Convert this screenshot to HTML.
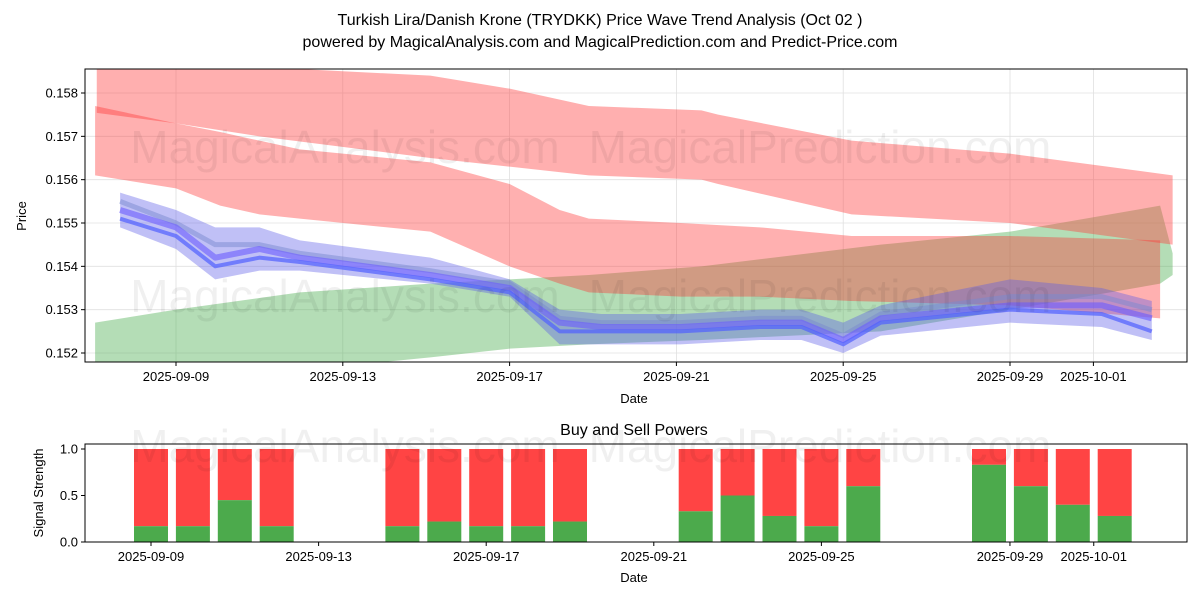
<!DOCTYPE html>
<html><head><meta charset="utf-8">
<style>
body{margin:0;background:#fff;}
svg{display:block;font-family:"Liberation Sans","DejaVu Sans",sans-serif;}
</style></head>
<body>
<svg id="chart" width="1200" height="600" viewBox="0 0 1200 600" xmlns="http://www.w3.org/2000/svg">
<rect width="1200" height="600" fill="#fff"/>
<text x="600" y="25" text-anchor="middle" font-size="16">Turkish Lira/Danish Krone (TRYDKK) Price Wave Trend Analysis (Oct 02 )</text>
<text x="600" y="47" text-anchor="middle" font-size="16">powered by MagicalAnalysis.com and MagicalPrediction.com and Predict-Price.com</text>
<defs>
<clipPath id="topclip"><rect x="85" y="69" width="1102" height="293"/></clipPath>
</defs>
<g id="topchart"></g>
<g id="bottomchart"></g>
</svg>
<script>
// ---- data ----
const tickDates=["2025-09-09","2025-09-13","2025-09-17","2025-09-21","2025-09-25","2025-09-29","2025-10-01"];
const tickDays=[0,4,8,12,16,20,22];
const yTicks=[0.152,0.153,0.154,0.155,0.156,0.157,0.158];
const redUpDays=[-1.9,0,2,6.1,8,9.9,12.6,13,16.2,20,23.9];
const redUpTop=[0.1586,0.1586,0.1586,0.1584,0.1581,0.1577,0.1576,0.1575,0.1569,0.1566,0.1561];
const redUpBot=[0.15754,0.1573,0.1570,0.1565,0.1563,0.1561,0.1560,0.1559,0.1552,0.1550,0.1545];
const redLoDays=[-1.94,0,1.06,2,2.97,6.1,8,9.2,9.9,12.1,14,16.2,20,23.6];
const redLoTop=[0.1577,0.1573,0.1571,0.1569,0.1567,0.1564,0.1559,0.1553,0.1551,0.1550,0.1549,0.1547,0.1547,0.1546];
const redLoBot=[0.1561,0.1558,0.1554,0.1552,0.1551,0.1548,0.1540,0.1536,0.1534,0.1533,0.1533,0.1532,0.1531,0.1528];
const greenDays=[-1.94,0,2.97,6.1,8,9.9,12.6,16.9,20,23.6,23.9];
const greenTop=[0.1527,0.1530,0.1534,0.1536,0.1537,0.1538,0.1540,0.1545,0.1548,0.1554,0.1543];
const greenBot=[0.1516,0.1514,0.1516,0.1519,0.1521,0.1522,0.1523,0.1525,0.1530,0.1536,0.1538];
const blueDays=[-1.34,0,0.94,2,2.97,6.1,8,9.2,10.2,12.1,14,15,16,16.9,20,22.2,23.4];
const blueTop=[0.1557,0.1553,0.1549,0.1549,0.1546,0.1542,0.1537,0.1530,0.1529,0.1529,0.1530,0.1530,0.1527,0.1531,0.1537,0.1535,0.1532];
const blueBot=[0.1549,0.1544,0.1537,0.1539,0.1539,0.1536,0.1533,0.1522,0.1522,0.1522,0.1523,0.1523,0.1520,0.1524,0.1527,0.1526,0.1523];
const lineA=[0.1553,0.1549,0.1542,0.1544,0.1542,0.1538,0.1535,0.1527,0.1526,0.1526,0.1527,0.1527,0.1523,0.1528,0.1531,0.1531,0.1528];
const lineB=[0.1551,0.1547,0.1540,0.1542,0.1541,0.1537,0.1534,0.1525,0.1525,0.1525,0.1526,0.1526,0.1522,0.1527,0.1530,0.1529,0.1525];
const lineC=[0.1555,0.1550,0.1545,0.1545,0.1543,0.1539,0.1536,0.1528,0.1527,0.1527,0.1528,0.1528,0.1524,0.1529,0.1533,0.1533,0.1530];
const sigDays=[0,1,2,3,6,7,8,9,10,13,14,15,16,17,20,21,22,23];
const buyVals=[0.17,0.17,0.45,0.17,0.17,0.22,0.17,0.17,0.22,0.33,0.5,0.28,0.17,0.6,0.83,0.6,0.4,0.28];
const sigTickDates=["2025-09-09","2025-09-13","2025-09-17","2025-09-21","2025-09-25","2025-09-29","2025-10-01"];
const sigTickDays=[0,4,8,12,16,20.5,22.5];
const sigYTicks=[0.0,0.5,1.0];

// ---- axes ----
const NS="http://www.w3.org/2000/svg";
const X=d=>176+41.7*d;
const Y=v=>353-(v-0.152)*43333;
const XB=d=>151+41.9*d;
const YB=v=>542-v*93;
function mk(tag,attrs,parent){const e=document.createElementNS(NS,tag);for(const k in attrs)e.setAttribute(k,attrs[k]);parent.appendChild(e);return e;}
const topG=document.getElementById('topchart'), bot=document.getElementById('bottomchart');

tickDays.forEach((d)=>{const l=mk('line',{x1:X(d),x2:X(d),y1:69,y2:362,stroke:'#e0e0e0','stroke-width':0.8},topG);

});
yTicks.forEach(v=>{const l=mk('line',{x1:85,x2:1187,y1:Y(v),y2:Y(v),stroke:'#e0e0e0','stroke-width':0.8},topG);

});

const plot=mk('g',{'clip-path':'url(#topclip)'},topG);


function band(days,t,b,fill,op,name){
 let p=days.map((d,i)=>X(d)+','+Y(t[i]));
 for(let i=days.length-1;i>=0;i--)p.push(X(days[i])+','+Y(b[i]));
 const e=mk('polygon',{points:p.join(' '),fill:fill,'fill-opacity':op},plot);
 
 
}
band(greenDays,greenTop,greenBot,'#4caf50',0.42,'green-band');
band(redUpDays,redUpTop,redUpBot,'#ff4040',0.42,'red-upper-band');
band(redLoDays,redLoTop,redLoBot,'#ff3030',0.38,'red-lower-band');
band(blueDays,blueTop,blueBot,'#5a5ae8',0.38,'blue-band');
function line(vals,col,w,op,name){
 const e=mk('polyline',{points:blueDays.map((d,i)=>X(d)+','+Y(vals[i])).join(' '),fill:'none',stroke:col,'stroke-width':w,'stroke-opacity':op,'stroke-linejoin':'round'},plot);
 
 
}
line(lineC,'#7a8ad0',5,0.5,'wave-line-c');
line(lineA,'#6a5cff',6,0.6,'wave-line-a');
line(lineB,'#5060ff',4,0.7,'wave-line-b');

[[345,163],[820,163],[345,312],[820,312]].forEach((p,i)=>{const t=mk('text',{x:p[0],y:p[1],'text-anchor':'middle','font-size':46,fill:'#000','fill-opacity':0.06},topG);
t.textContent=i%2?'MagicalPrediction.com':'MagicalAnalysis.com';

});

mk('rect',{x:85,y:69,width:1102,height:293,fill:'none',stroke:'#000','stroke-width':1},topG);
tickDays.forEach((d,i)=>{mk('line',{x1:X(d),x2:X(d),y1:362,y2:366,stroke:'#000'},topG);
const t=mk('text',{x:X(d),y:381,'text-anchor':'middle','font-size':13},topG);t.textContent=tickDates[i];

});
yTicks.forEach(v=>{mk('line',{x1:81,x2:85,y1:Y(v),y2:Y(v),stroke:'#000'},topG);
const t=mk('text',{x:78,y:Y(v)+4.5,'text-anchor':'end','font-size':13},topG);t.textContent=v.toFixed(3);

});
let t=mk('text',{x:634,y:403,'text-anchor':'middle','font-size':13},topG);t.textContent='Date';


t=mk('text',{x:26,y:216,'text-anchor':'middle','font-size':13,transform:'rotate(-90 26 216)'},topG);t.textContent='Price';



t=mk('text',{x:634,y:435,'text-anchor':'middle','font-size':16},bot);t.textContent='Buy and Sell Powers';


sigDays.forEach((d,i)=>{const x=XB(d)-17;
 const r=mk('rect',{x:x,y:YB(1),width:34,height:YB(buyVals[i])-YB(1),fill:'#ff4444'},bot);
 
 
 const g=mk('rect',{x:x,y:YB(buyVals[i]),width:34,height:YB(0)-YB(buyVals[i]),fill:'#4caa4c'},bot);
 
 });
[[345,462],[820,462]].forEach((p,i)=>{const w=mk('text',{x:p[0],y:p[1],'text-anchor':'middle','font-size':46,fill:'#000','fill-opacity':0.06},bot);
w.textContent=i?'MagicalPrediction.com':'MagicalAnalysis.com';

});
mk('rect',{x:85,y:444,width:1102,height:98,fill:'none',stroke:'#000','stroke-width':1},bot);
sigTickDays.forEach((d,i)=>{mk('line',{x1:XB(d),x2:XB(d),y1:542,y2:546,stroke:'#000'},bot);
const s=mk('text',{x:XB(d),y:561,'text-anchor':'middle','font-size':13},bot);s.textContent=sigTickDates[i];

});
sigYTicks.forEach(v=>{mk('line',{x1:81,x2:85,y1:YB(v),y2:YB(v),stroke:'#000'},bot);
const s=mk('text',{x:78,y:YB(v)+4.5,'text-anchor':'end','font-size':13},bot);s.textContent=v.toFixed(1);

});
t=mk('text',{x:634,y:582,'text-anchor':'middle','font-size':13},bot);t.textContent='Date';


t=mk('text',{x:43,y:493,'text-anchor':'middle','font-size':13,transform:'rotate(-90 43 493)'},bot);t.textContent='Signal Strength';


</script>
</body></html>
